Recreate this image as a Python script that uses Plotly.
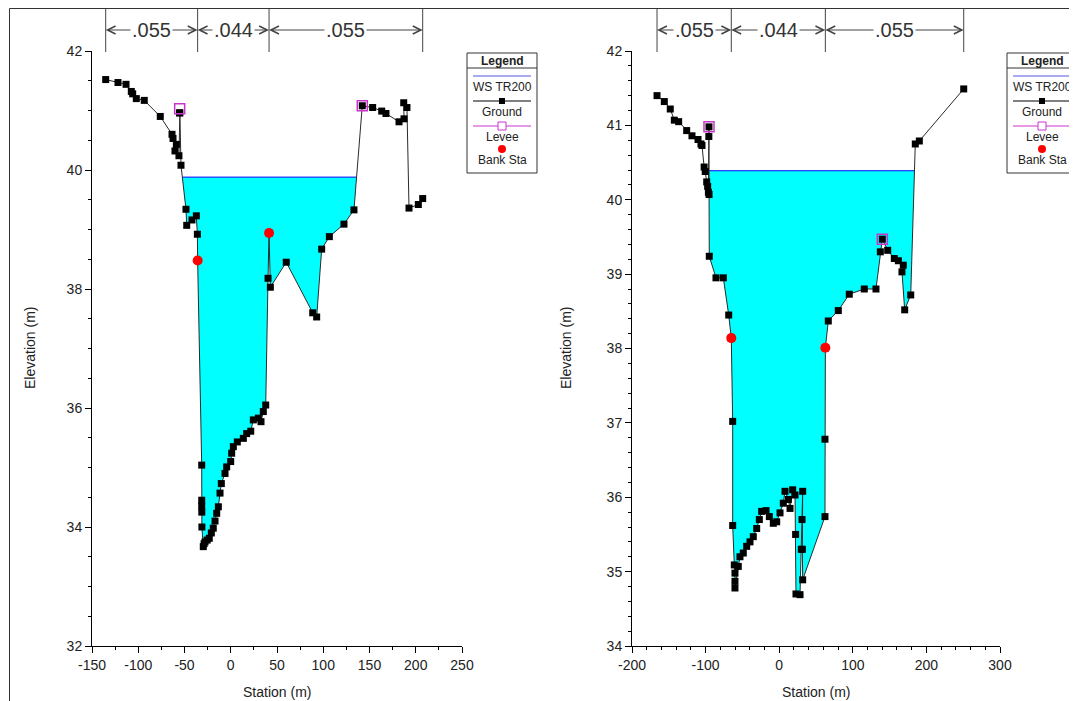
import plotly.graph_objects as go
import numpy as np

# ---------------- data: left cross-section ----------------
L_station = [-135.2, -121.9, -113.2, -107.5, -106.0, -102.1, -93.5, -76.2, -63.5, -62.4,
             -58.8, -60.3, -56.0, -55.4, -55.0, -53.8, -48.4, -47.6, -41.9, -37.2,
             -36.1, -35.8, -31.4, -31.4, -31.4, -31.3, -31.2, -29.7, -28.8, -27.8,
             -25.5, -23.2, -21.0, -18.9, -17.0, -15.2, -13.4, -11.6, -10.2, -6.2,
             -4.4, -0.05, 1.0, 2.8, 7.1, 13.6, 17.2, 21.6, 24.4, 29.8,
             32.7, 35.2, 37.8, 40.3, 41.4, 42.8, 60.0, 88.6, 92.9, 98.3,
             106.6, 122.4, 133.2, 142.2, 153.4, 163.2, 167.8, 181.9, 187.3, 187.0,
             190.5, 192.7, 202.8, 207.5]
L_elev = [41.52, 41.47, 41.44, 41.32, 41.28, 41.20, 41.17, 40.90, 40.60, 40.53,
          40.43, 40.32, 40.24, 40.96, 40.96, 40.08, 39.34, 39.07, 39.16, 39.23,
          38.92, 38.48, 35.04, 34.45, 34.35, 34.25, 34.00, 33.67, 33.72, 33.75,
          33.78, 33.81, 33.90, 33.98, 34.10, 34.23, 34.34, 34.57, 34.73, 34.90,
          35.01, 35.10, 35.24, 35.35, 35.43, 35.49, 35.57, 35.61, 35.80, 35.83,
          35.77, 35.94, 36.05, 38.18, 38.94, 38.03, 38.45, 37.60, 37.53, 38.67,
          38.88, 39.09, 39.33, 41.08, 41.05, 40.99, 40.95, 40.81, 40.86, 41.13,
          41.05, 39.36, 39.42, 39.52]
L_ws = 39.88
L_levee_sta = [-55.2, 142.2]
L_levee_elev = [41.03, 41.08]
L_bank_sta = [-35.8, 41.4]
L_bank_elev = [38.48, 38.94]
L_xticks = [-150, -100, -50, 0, 50, 100, 150, 200, 250]
L_yticks = [32, 34, 36, 38, 40, 42]

# ---------------- data: right cross-section ----------------
R_station = [-166.0, -156.1, -148.0, -142.5, -136.6, -125.7, -118.5, -110.3, -106.3, -104.9,
             -102.0, -100.5, -98.5, -97.2, -96.2, -95.6, -95.4, -95.3, -95.0, -85.9,
             -75.9, -68.6, -65.1, -63.2, -63.2, -61.0, -60.1, -60.1, -60.1, -55.6,
             -53.3, -48.8, -44.2, -39.7, -35.2, -30.6, -27.0, -23.8, -17.9, -13.4,
             -8.0, -3.4, 1.1, 5.6, 7.9, 12.4, 14.7, 18.3, 21.5, 22.3,
             22.8, 28.3, 30.0, 31.0, 31.9, 31.5, 31.9, 62.2, 62.2, 62.7,
             66.7, 80.3, 95.2, 115.6, 131.5, 137.4, 140.1, 147.4, 156.4, 161.9,
             168.6, 166.8, 170.5, 178.7, 184.9, 190.4, 250.7]
R_elev = [41.40, 41.32, 41.22, 41.07, 41.05, 40.93, 40.86, 40.81, 40.75, 40.73,
          40.44, 40.38, 40.24, 40.18, 40.10, 40.85, 40.98, 40.07, 39.24, 38.95,
          38.95, 38.45, 38.14, 37.02, 35.62, 35.09, 34.98, 34.87, 34.78, 35.07,
          35.20, 35.25, 35.34, 35.40, 35.47, 35.58, 35.70, 35.81, 35.82, 35.74,
          35.65, 35.67, 35.79, 35.92, 36.08, 35.97, 35.85, 36.10, 36.03, 35.50,
          34.70, 34.69, 35.30, 35.70, 36.08, 35.30, 34.89, 35.74, 36.78, 38.01,
          38.37, 38.51, 38.73, 38.80, 38.80, 39.30, 39.47, 39.32, 39.21, 39.18,
          39.12, 39.03, 38.52, 38.72, 40.75, 40.79, 41.49]
R_ws = 40.39
R_levee_sta = [-95.4, 140.1]
R_levee_elev = [40.98, 39.47]
R_bank_sta = [-65.1, 62.7]
R_bank_elev = [38.14, 38.01]
R_xticks = [-200, -100, 0, 100, 200, 300]
R_yticks = [34, 35, 36, 37, 38, 39, 40, 41, 42]

n_values = [".055", ".044", ".055"]

# page body has an 8px margin: shrink the figure and shift coordinates
OFF = 8
W, H = 1077 - OFF, 701 - OFF
FONT = "Liberation Sans, Arial, sans-serif"


def px(x):
    return (x - OFF) / W


def py(y):
    return 1 - (y - OFF) / H


def water_polygon(sta, elev, ws):
    sta = np.asarray(sta, float)
    elev = np.asarray(elev, float)
    i0 = int(np.argmin(elev))
    iL = i0
    while iL > 0 and elev[iL - 1] < ws:
        iL -= 1
    iR = i0
    while iR < len(elev) - 1 and elev[iR + 1] < ws:
        iR += 1
    a, b = iL - 1, iL
    sL = sta[a] + (ws - elev[a]) / (elev[b] - elev[a]) * (sta[b] - sta[a])
    a, b = iR, iR + 1
    sR = sta[a] + (ws - elev[a]) / (elev[b] - elev[a]) * (sta[b] - sta[a])
    xs = [sL] + list(sta[iL:iR + 1]) + [sR, sL]
    ys = [ws] + list(elev[iL:iR + 1]) + [ws, ws]
    return xs, ys, sL, sR


fig = go.Figure()
panels = [
    dict(sta=L_station, elev=L_elev, ws=L_ws, lev_s=L_levee_sta, lev_e=L_levee_elev,
         bank_s=L_bank_sta, bank_e=L_bank_elev, xa="x", ya="y", legx=467, titx=30, stx=277),
    dict(sta=R_station, elev=R_elev, ws=R_ws, lev_s=R_levee_sta, lev_e=R_levee_elev,
         bank_s=R_bank_sta, bank_e=R_bank_elev, xa="x2", ya="y2", legx=1007, titx=566, stx=816),
]

annotations = []
shapes = []


def ann(**kw):
    kw.setdefault("xanchor", "center")
    kw.setdefault("yanchor", "middle")
    annotations.append(kw)


for p in panels:
    xs, ys, sL, sR = water_polygon(p["sta"], p["elev"], p["ws"])
    fig.add_trace(go.Scatter(x=xs, y=ys, mode="lines", fill="toself", fillcolor="#00ffff",
                             line=dict(width=0), xaxis=p["xa"], yaxis=p["ya"], hoverinfo="skip",
                             showlegend=False))
    fig.add_trace(go.Scatter(x=[sL, sR], y=[p["ws"], p["ws"]], mode="lines",
                             line=dict(color="#0000ff", width=1), xaxis=p["xa"], yaxis=p["ya"],
                             showlegend=False))
    fig.add_trace(go.Scatter(x=p["sta"], y=p["elev"], mode="lines+markers",
                             line=dict(color="#2a2a2a", width=1),
                             marker=dict(symbol="square", size=7, color="black"),
                             xaxis=p["xa"], yaxis=p["ya"], showlegend=False))
    fig.add_trace(go.Scatter(x=p["lev_s"], y=p["lev_e"], mode="markers",
                             marker=dict(symbol="square-open", size=10, color="#cc33cc",
                                         line=dict(width=1.5)),
                             xaxis=p["xa"], yaxis=p["ya"], showlegend=False))
    fig.add_trace(go.Scatter(x=p["bank_s"], y=p["bank_e"], mode="markers",
                             marker=dict(symbol="circle", size=10, color="#ff0000"),
                             xaxis=p["xa"], yaxis=p["ya"], showlegend=False))

    # Manning's n band
    edges = [p["sta"][0], p["bank_s"][0], p["bank_s"][1], p["sta"][-1]]
    yb = py(30)
    for e in edges:
        shapes.append(dict(type="line", xref=p["xa"], yref="paper", x0=e, x1=e,
                           y0=py(52), y1=py(8.5), line=dict(color="#444", width=1)))
    for i, nv in enumerate(n_values):
        a, b = edges[i], edges[i + 1]
        mid = (a + b) / 2
        for tip in (a, b):
            annotations.append(dict(x=tip, y=yb, xref=p["xa"], yref="paper", ax=mid, ay=0,
                                    axref=p["xa"], ayref="pixel", text="", showarrow=True,
                                    arrowhead=5, arrowsize=1.6, arrowwidth=1, arrowcolor="#444",
                                    standoff=0, startstandoff=0))
        ann(x=mid, y=yb, xref=p["xa"], yref="paper", text=nv,
            showarrow=False, font=dict(size=20, family=FONT, color="#333"),
            bgcolor="white", borderpad=1)

    # axis titles
    ann(x=px(p["titx"]), y=py(348), xref="paper", yref="paper",
        text="Elevation (m)", textangle=-90, showarrow=False,
        font=dict(size=14, family=FONT, color="#222"))
    ann(x=px(p["stx"]), y=py(692), xref="paper", yref="paper",
        text="Station (m)", showarrow=False,
        font=dict(size=14, family=FONT, color="#222"))

    # custom legend box
    lx0 = p["legx"]
    lx1 = lx0 + 70
    shapes.append(dict(type="rect", xref="paper", yref="paper", x0=px(lx0), x1=px(lx1),
                       y0=py(173), y1=py(53), line=dict(color="#333", width=1),
                       fillcolor="white"))
    shapes.append(dict(type="line", xref="paper", yref="paper", x0=px(lx0), x1=px(lx1),
                       y0=py(68), y1=py(68), line=dict(color="#333", width=1)))
    cx = (lx0 + lx1) / 2
    ann(x=px(cx), y=py(60.5), xref="paper", yref="paper", text="<b>Legend</b>",
        showarrow=False, font=dict(size=12, family=FONT, color="#222"))
    items = [("WS TR200", "#5555dd", 76, None),
             ("Ground", "black", 101, "sq"),
             ("Levee", "#cc33cc", 126, "osq"),
             ("Bank Sta", None, 149, "dot")]
    for label, col, yl, sym in items:
        if col is not None:
            shapes.append(dict(type="line", xref="paper", yref="paper", x0=px(lx0 + 6),
                               x1=px(lx1 - 6), y0=py(yl), y1=py(yl), line=dict(color=col, width=1)))
        if sym == "sq":
            shapes.append(dict(type="rect", xref="paper", yref="paper", x0=px(cx - 3), x1=px(cx + 3),
                               y0=py(yl + 3), y1=py(yl - 3), fillcolor="black",
                               line=dict(color="black", width=0)))
        elif sym == "osq":
            shapes.append(dict(type="rect", xref="paper", yref="paper", x0=px(cx - 4), x1=px(cx + 4),
                               y0=py(yl + 4), y1=py(yl - 4), fillcolor="white",
                               line=dict(color="#cc33cc", width=1)))
        elif sym == "dot":
            shapes.append(dict(type="circle", xref="paper", yref="paper", x0=px(cx - 4), x1=px(cx + 4),
                               y0=py(yl + 4), y1=py(yl - 4), fillcolor="#ff0000",
                               line=dict(color="#ff0000", width=0)))
        ann(x=px(cx), y=py(yl + 11), xref="paper", yref="paper", text=label,
            showarrow=False, font=dict(size=12, family=FONT, color="#222"))

# outer frame lines
shapes.append(dict(type="line", xref="paper", yref="paper", x0=px(9.5), x1=px(9.5), y0=0, y1=py(8.5),
                   line=dict(color="#333", width=1)))
shapes.append(dict(type="line", xref="paper", yref="paper", x0=px(9.5), x1=1, y0=py(8.5), y1=py(8.5),
                   line=dict(color="#333", width=1)))

axis_common = dict(showline=True, linecolor="black", linewidth=1, ticks="outside", ticklen=6,
                   tickcolor="black", showgrid=False, zeroline=False, automargin=False,
                   tickmode="array",
                   tickfont=dict(size=14, family=FONT, color="#222"))


def labels(vals):
    return [f"{v:g}" for v in vals]


fig.update_layout(
    template="none",
    width=W, height=H, autosize=False,
    margin=dict(l=0, r=0, t=0, b=0, pad=0),
    paper_bgcolor="white", plot_bgcolor="white",
    showlegend=False,
    xaxis=dict(domain=[px(92), px(462)], range=[-150, 250], anchor="y",
               tickvals=L_xticks, ticktext=labels(L_xticks),
               minor=dict(dtick=25, ticks="outside", ticklen=3, tickcolor="black", showgrid=False),
               **axis_common),
    yaxis=dict(domain=[py(646), py(51)], range=[32, 42], anchor="x",
               tickvals=L_yticks, ticktext=labels(L_yticks),
               minor=dict(dtick=0.5, ticks="outside", ticklen=3, tickcolor="black", showgrid=False),
               **axis_common),
    xaxis2=dict(domain=[px(632), px(1000)], range=[-200, 300], anchor="y2",
                tickvals=R_xticks, ticktext=labels(R_xticks),
                minor=dict(dtick=20, ticks="outside", ticklen=3, tickcolor="black", showgrid=False),
                **axis_common),
    yaxis2=dict(domain=[py(646), py(51)], range=[34, 42], anchor="x2",
                tickvals=R_yticks, ticktext=labels(R_yticks),
                minor=dict(dtick=0.2, ticks="outside", ticklen=3, tickcolor="black", showgrid=False),
                **axis_common),
    shapes=shapes,
    annotations=annotations,
)

fig.write_html("out.html")
